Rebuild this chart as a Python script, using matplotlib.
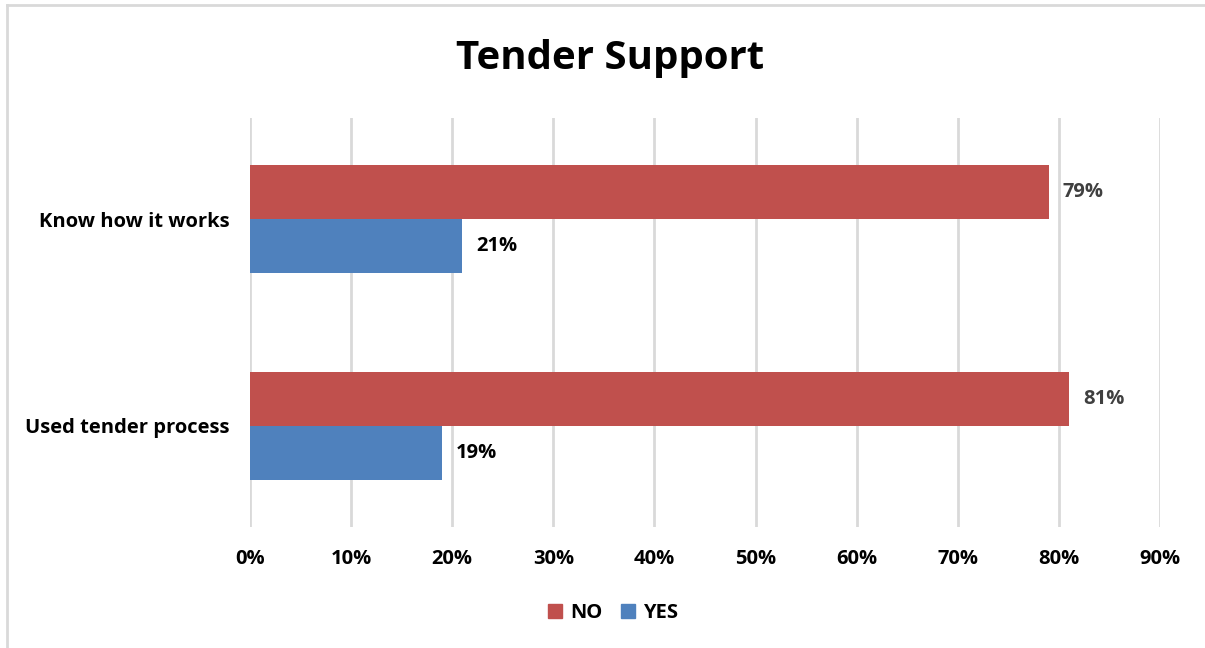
import matplotlib.pyplot as plt
from matplotlib.lines import Line2D
from matplotlib.patches import Patch

plt.rcParams['font.family'] = ['Open Sans', 'DejaVu Sans']
plt.rcParams['font.weight'] = 'bold'

categories = ['Know how it works', 'Used tender process']
no_vals = [79, 81]
yes_vals = [21, 19]
ticks = [0, 10, 20, 30, 40, 50, 60, 70, 80, 90]

red = '#C0504D'
blue = '#4F81BD'
fs = 14.5

fig = plt.figure(figsize=(12.05, 6.48), dpi=100)
ax = fig.add_axes([250 / 1205, 1 - 527 / 648, 910 / 1205, 409 / 648])

# frame line around the chart area (top and left edges)
fig.add_artist(Line2D([7 / 1205, 1], [1 - 5 / 648] * 2, color='#d9d9d9', lw=2, transform=fig.transFigure))
fig.add_artist(Line2D([7 / 1205] * 2, [0, 1 - 5 / 648], color='#d9d9d9', lw=2, transform=fig.transFigure))

h = 0.262
ypos = list(range(len(categories)))
no_y = [y - h / 2 for y in ypos]
yes_y = [y + h / 2 for y in ypos]
ax.barh(no_y, no_vals, height=h, color=red, zorder=3)
ax.barh(yes_y, yes_vals, height=h, color=blue, zorder=3)

for y, v in zip(no_y, no_vals):
    ax.annotate(f'{v}%', (v, y), xytext=(10, 0), textcoords='offset points',
                va='center', ha='left', fontsize=fs, fontweight='bold', color='#404040')
for y, v in zip(yes_y, yes_vals):
    ax.annotate(f'{v}%', (v, y), xytext=(10, 0), textcoords='offset points',
                va='center', ha='left', fontsize=fs, fontweight='bold', color='black')

ax.set_xlim(0, 90)
ax.set_ylim(1.49, -0.49)
ax.set_xticks(ticks)
ax.set_xticklabels([f'{t}%' for t in ticks], fontsize=fs, fontweight='bold')
ax.set_yticks(ypos)
ax.set_yticklabels(categories, fontsize=fs, fontweight='bold')
ax.tick_params(length=0, pad=16)
ax.tick_params(axis='y', pad=15)
ax.grid(axis='x', color='#d9d9d9', lw=2, zorder=0)
for s in ax.spines.values():
    s.set_visible(False)

fig.text(610 / 1205, 1 - 58 / 648, 'Tender Support', ha='center', va='center',
         fontsize=29, fontweight='bold')

handles = [Patch(color=red, label='NO'), Patch(color=blue, label='YES')]
fig.legend(handles=handles, loc='center', bbox_to_anchor=(613 / 1205, 1 - 613 / 648),
           ncol=2, frameon=False, fontsize=fs, handlelength=0.7, handleheight=0.7,
           handletextpad=0.4, columnspacing=0.9)

fig.savefig('out.png', dpi=100)
